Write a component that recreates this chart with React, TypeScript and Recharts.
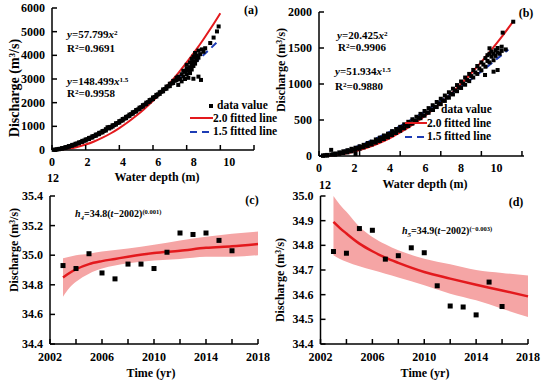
import React from "react";
import { ComposedChart, Scatter, Line, Area, XAxis, YAxis } from "recharts";

const FONT = "'Liberation Serif', 'Times New Roman', serif";
const RED = "#e3191d";
const BLUE = "#1d3cb5";
const BAND = "#f5a5a5";

// ---- panel (a): discharge vs water depth, station 1
const depthTicksA = [0, 2, 4, 6, 8, 10, 12];
const depthLabelsA = [0, 2, 4, 6, 8, 10];
const flowTicksA = [0, 1000, 2000, 3000, 4000, 5000, 6000];
const pointsA: [number, number][] = [
  [0.1, 5], [0.2, 20], [0.2, 5], [0.3, 28], [0.4, 45], [0.4, 30], [0.5, 50], [0.6, 80], [0.6, 60],
  [0.7, 85], [0.8, 120], [0.8, 95], [0.9, 125], [1.0, 165], [1.0, 135], [1.1, 170], [1.2, 215],
  [1.2, 180], [1.3, 220], [1.4, 265], [1.4, 230], [1.5, 275], [1.6, 320], [1.6, 285], [1.7, 335],
  [1.8, 385], [1.8, 340], [1.9, 395], [2.0, 445], [2.0, 400], [2.1, 455], [2.2, 510], [2.2, 465],
  [2.3, 520], [2.4, 580], [2.4, 530], [2.5, 590], [2.6, 650], [2.6, 600], [2.7, 660], [2.8, 725],
  [2.8, 670], [2.9, 735], [3.0, 800], [3.0, 745], [3.1, 810], [3.2, 880], [3.2, 825], [3.3, 960],
  [3.4, 960], [3.4, 910], [3.45, 975], [3.5, 955], [3.6, 1045], [3.6, 990], [3.7, 1050], [3.8, 1130],
  [3.8, 1075], [3.9, 1140], [4.0, 1220], [4.0, 1160], [4.1, 1235], [4.2, 1310], [4.2, 1250],
  [4.3, 1325], [4.4, 1400], [4.4, 1345], [4.5, 1420], [4.6, 1495], [4.6, 1440], [4.7, 1515],
  [4.8, 1595], [4.8, 1535], [4.9, 1610], [5.0, 1690], [5.0, 1630], [5.1, 1710], [5.2, 1790],
  [5.2, 1735], [5.3, 1810], [5.4, 1895], [5.4, 1835], [5.5, 1915], [5.6, 2000], [5.6, 1940],
  [5.7, 2020], [5.8, 2110], [5.8, 2045], [5.9, 2130], [6.0, 2220], [6.0, 2150], [6.1, 2240],
  [6.2, 2330], [6.2, 2260], [6.3, 2350], [6.4, 2440], [6.4, 2370], [6.5, 2460], [6.6, 2560],
  [6.6, 2480], [6.7, 2575], [6.8, 2680], [6.8, 2590], [6.9, 2690], [7.0, 2800], [7.0, 2700],
  [7.1, 2810], [7.2, 2920], [7.2, 2830], [7.3, 2930], [7.4, 3050], [7.4, 2950], [7.5, 3100],
  [7.5, 2750], [7.6, 3000], [7.7, 3200], [7.7, 2900], [7.8, 3100], [7.8, 3350], [7.9, 3000],
  [7.9, 3300], [8.0, 3200], [8.0, 3450], [8.0, 3600], [8.1, 3350], [8.1, 3050], [8.2, 3500],
  [8.2, 3700], [8.2, 3250], [8.3, 3400], [8.3, 3850], [8.3, 3600], [8.4, 3550], [8.4, 3750],
  [8.4, 3950], [8.4, 3010], [8.5, 3650], [8.5, 3900], [8.5, 4100], [8.6, 3800], [8.6, 4000],
  [8.7, 3900], [8.7, 4200], [8.7, 3100], [8.8, 4050], [8.85, 2960], [8.9, 4250], [9.0, 4150],
  [9.1, 4300], [9.4, 4520], [9.6, 4750], [9.8, 5010], [9.9, 5220],
];
const fit20A: [number, number][] = [
  [0, 0], [0.5, 14], [1, 58], [1.5, 130], [2, 231], [2.5, 361], [3, 520], [3.5, 708], [4, 925],
  [4.5, 1170], [5, 1445], [5.5, 1748], [6, 2081], [6.5, 2442], [7, 2832], [7.5, 3251], [8, 3699],
  [8.5, 4176], [9, 4682], [9.5, 5216], [10, 5780],
];
const fit15A: [number, number][] = [
  [0, 0], [0.5, 52], [1, 148], [1.5, 273], [2, 420], [2.5, 587], [3, 772], [3.5, 972], [4, 1188],
  [4.5, 1418], [5, 1660], [5.5, 1916], [6, 2183], [6.5, 2461], [7, 2750], [7.5, 3050], [8, 3360],
  [8.5, 3680], [9, 4010], [9.5, 4348], [9.85, 4591],
];

// ---- panel (b): discharge vs water depth, station 2
const depthTicksB = [0, 2, 4, 6, 8, 10];
const depthLabelsB = [0, 2, 4, 6, 8, 10];
const flowTicksB = [0, 500, 1000, 1500, 2000];
const pointsB: [number, number][] = [
  [0.2, 8], [0.2, 2], [0.3, 10], [0.4, 15], [0.4, 5], [0.6, 85], [0.6, 20], [0.7, 25], [0.8, 35],
  [0.8, 18], [1.0, 50], [1.0, 30], [1.1, 45], [1.2, 65], [1.2, 40], [1.3, 60], [1.4, 80], [1.4, 50],
  [1.5, 75], [1.6, 100], [1.6, 65], [1.7, 90], [1.8, 28], [1.8, 115], [1.8, 85], [1.9, 110],
  [2.0, 135], [2.0, 100], [2.1, 125], [2.2, 155], [2.2, 120], [2.3, 150], [2.4, 180], [2.4, 140],
  [2.5, 170], [2.6, 200], [2.6, 160], [2.7, 195], [2.8, 230], [2.8, 185], [2.9, 215], [3.0, 255],
  [3.0, 210], [3.1, 240], [3.2, 285], [3.2, 235], [3.3, 270], [3.4, 310], [3.4, 260], [3.5, 300],
  [3.6, 345], [3.6, 290], [3.7, 325], [3.8, 375], [3.8, 320], [3.9, 360], [4.0, 405], [4.0, 350],
  [4.1, 390], [4.2, 440], [4.2, 385], [4.3, 420], [4.4, 475], [4.4, 415], [4.5, 455], [4.6, 510],
  [4.6, 450], [4.7, 490], [4.8, 545], [4.8, 485], [4.9, 530], [5.0, 585], [5.0, 525], [5.1, 565],
  [5.2, 625], [5.2, 560], [5.3, 605], [5.4, 665], [5.4, 600], [5.5, 645], [5.6, 705], [5.6, 640],
  [5.7, 685], [5.8, 750], [5.8, 680], [5.9, 730], [6.0, 795], [6.0, 720], [6.1, 770], [6.2, 840],
  [6.2, 765], [6.3, 815], [6.4, 885], [6.4, 810], [6.5, 865], [6.6, 935], [6.6, 855], [6.7, 910],
  [6.8, 985], [6.8, 900], [6.9, 955], [7.0, 1035], [7.0, 945], [7.1, 1005], [7.2, 1090], [7.2, 990],
  [7.3, 1055], [7.4, 1140], [7.4, 1040], [7.5, 1110], [7.6, 1195], [7.6, 1090], [7.7, 1160],
  [7.8, 1250], [7.8, 1140], [7.9, 1215], [8.0, 1300], [8.0, 1190], [8.1, 1270], [8.18, 1125],
  [8.2, 1360], [8.2, 1240], [8.3, 1320], [8.3, 1400], [8.4, 1420], [8.4, 1300], [8.4, 1496],
  [8.5, 1380], [8.5, 1450], [8.6, 1171], [8.6, 1420], [8.6, 1330], [8.7, 1470], [8.7, 1390],
  [8.8, 1194], [8.8, 1440], [8.8, 1500], [8.9, 1420], [9.0, 1518], [9.0, 1460], [9.05, 1713],
  [9.2, 1480], [9.57, 1865],
];
const fit20B: [number, number][] = [
  [0, 0], [0.5, 5], [1, 20], [1.5, 46], [2, 82], [2.5, 128], [3, 184], [3.5, 250], [4, 327],
  [4.5, 414], [5, 511], [5.5, 618], [6, 735], [6.5, 863], [7, 1001], [7.5, 1149], [8, 1307],
  [8.5, 1476], [9, 1654], [9.57, 1871],
];
const fit15B: [number, number][] = [
  [0, 0], [0.5, 18], [1, 52], [1.5, 95], [2, 147], [2.5, 205], [3, 270], [3.5, 340], [4, 415],
  [4.5, 496], [5, 581], [5.5, 670], [6, 763], [6.5, 861], [7, 962], [7.5, 1067], [8, 1175],
  [8.5, 1287], [9, 1402], [9.33, 1480],
];

// ---- panels (c) and (d): yearly values with fitted curve and band
const years = [2003, 2004, 2005, 2006, 2007, 2008, 2009, 2010, 2011, 2012, 2013, 2014, 2015, 2016];
const h4 = [34.93, 34.91, 35.01, 34.88, 34.84, 34.94, 34.94, 34.91, 35.02, 35.15, 35.14, 35.15, 35.1, 35.03];
const h5 = [34.775, 34.768, 34.868, 34.861, 34.744, 34.758, 34.79, 34.77, 34.636, 34.554, 34.55, 34.518, 34.651, 34.552];
const yearTicks = [2002, 2004, 2006, 2008, 2010, 2012, 2014, 2016, 2018];
const fitYears = [2003, 2003.5, 2004, 2005, 2006, 2007, 2008, 2010, 2012, 2014, 2016, 2018];
const fitC = [34.85, 34.88, 34.905, 34.94, 34.96, 34.975, 34.99, 35.015, 35.03, 35.05, 35.06, 35.075];
const hiC = [34.98, 34.99, 35.0, 35.01, 35.025, 35.035, 35.045, 35.07, 35.1, 35.125, 35.145, 35.16];
const loC = [34.72, 34.78, 34.82, 34.875, 34.91, 34.93, 34.945, 34.965, 34.975, 34.99, 34.99, 35.0];
const fitD = [34.895, 34.87, 34.848, 34.807, 34.776, 34.75, 34.729, 34.692, 34.665, 34.64, 34.617, 34.593];
const hiD = [35.0, 34.965, 34.936, 34.875, 34.834, 34.804, 34.78, 34.746, 34.723, 34.7, 34.688, 34.678];
const loD = [34.76, 34.745, 34.733, 34.715, 34.7, 34.685, 34.67, 34.638, 34.604, 34.577, 34.543, 34.509];
const ticksC = [34.4, 34.6, 34.8, 35.0, 35.2, 35.4];
const ticksD = [34.4, 34.5, 34.6, 34.7, 34.8, 34.9, 35.0];

const toRows = (p: [number, number][]) => p.map(([x, y]) => ({ x, y }));

const square = (s: number) => (p: any) => (
  <rect x={p.cx - s / 2} y={p.cy - s / 2} width={s} height={s} fill="#000" />
);

const txt = { fontFamily: FONT, fontWeight: 700, fill: "#000" } as const;

const yTick = (size: number, digits: number) => (p: any) => (
  <g>
    <line x1={p.x} y1={p.y} x2={p.x + 5} y2={p.y} stroke="#000" strokeWidth={1.5} />
    <text x={p.x - 7} y={p.y} textAnchor="end" dominantBaseline="central" fontSize={size} style={txt}>
      {Number(p.payload.value).toFixed(digits)}
    </text>
  </g>
);

const xMark = (p: any) => (
  <line x1={p.x} y1={p.y} x2={p.x} y2={p.y - 5} stroke="#000" strokeWidth={1.5} />
);

const xLabel = (off: number) => (p: any) => (
  <text x={p.x} y={p.y + off} textAnchor="middle" dominantBaseline="central" fontSize={12} style={txt}>
    {p.payload.value}
  </text>
);

const yearTick = (p: any) => (
  <g>
    <line x1={p.x} y1={p.y} x2={p.x} y2={p.y - 5} stroke="#000" strokeWidth={1.5} />
    {(p.payload.value - 2002) % 4 === 0 && (
      <text x={p.x} y={p.y + 13} textAnchor="middle" dominantBaseline="central" fontSize={12} style={txt}>
        {p.payload.value}
      </text>
    )}
  </g>
);

function T({ x, y, size = 12, children, center = false, rotate = false }: any) {
  return (
    <div
      style={{
        position: "absolute",
        left: x,
        top: y,
        transform: `translate(${center || rotate ? "-50%" : "0"}, -50%)${rotate ? " rotate(-90deg)" : ""}`,
        fontFamily: FONT,
        fontWeight: 700,
        fontSize: size,
        whiteSpace: "nowrap",
        lineHeight: 1,
        color: "#000",
      }}
    >
      {children}
    </div>
  );
}

const Sup = ({ children, s = 0.65 }: any) => (
  <span style={{ fontSize: `${s}em`, position: "relative", top: "-0.45em" }}>{children}</span>
);

function LegendLine({ x1, x2, y, color, dashed }: any) {
  return (
    <svg style={{ position: "absolute", left: 0, top: 0, overflow: "visible" }} width={1} height={1}>
      <line x1={x1} y1={y} x2={x2} y2={y} stroke={color} strokeWidth={2} strokeDasharray={dashed ? "7 5" : undefined} />
    </svg>
  );
}

function DepthPanel({ left, margin, width, height, xMax, xTicks, labMax, labTicks, labOff, yMax, yTicks, points, red, blue }: any) {
  const rows = toRows(points);
  return (
    <div style={{ position: "absolute", left, top: 0 }}>
      <ComposedChart width={width} height={height} margin={margin} data={rows}>
        <XAxis
          type="number"
          dataKey="x"
          domain={[0, xMax]}
          ticks={xTicks}
          interval={0}
          height={1}
          tickSize={0}
          tickMargin={0}
          tick={xMark}
          axisLine={{ stroke: "#000", strokeWidth: 1.5 }}
          tickLine={false}
        />
        <XAxis
          xAxisId="lab"
          type="number"
          dataKey="x"
          domain={[0, labMax]}
          allowDataOverflow
          ticks={labTicks}
          interval={0}
          height={1}
          tickSize={0}
          tickMargin={0}
          tick={xLabel(labOff)}
          axisLine={false}
          tickLine={false}
        />
        <YAxis
          type="number"
          domain={[0, yMax]}
          ticks={yTicks}
          interval={0}
          width={40}
          tickSize={0}
          tickMargin={0}
          tick={yTick(12, 0)}
          axisLine={{ stroke: "#000", strokeWidth: 1.5 }}
          tickLine={false}
        />
        <Scatter dataKey="y" shape={square(4)} isAnimationActive={false} />
        <Line data={toRows(red)} dataKey="y" type="monotone" stroke={RED} strokeWidth={2} dot={false} isAnimationActive={false} />
        <Line data={toRows(blue)} dataKey="y" type="monotone" stroke={BLUE} strokeWidth={2} strokeDasharray="7 5" dot={false} isAnimationActive={false} />
      </ComposedChart>
    </div>
  );
}

function TimePanel({ left, margin, values, fit, lo, hi, yMin, yMax, yTicks }: any) {
  const rows = fitYears.map((t, i) => ({ x: t, fit: fit[i], band: [lo[i], hi[i]] }));
  const pts = years.map((t, i) => ({ x: t, y: values[i] }));
  return (
    <div style={{ position: "absolute", left, top: 190 }}>
      <ComposedChart width={275} height={194} margin={margin} data={rows}>
        <XAxis
          type="number"
          dataKey="x"
          domain={[2002, 2018]}
          ticks={yearTicks}
          interval={0}
          height={1}
          tickSize={0}
          tickMargin={0}
          tick={yearTick}
          axisLine={{ stroke: "#000", strokeWidth: 1.5 }}
          tickLine={false}
        />
        <YAxis
          type="number"
          domain={[yMin, yMax]}
          ticks={yTicks}
          interval={0}
          allowDataOverflow
          width={40}
          tickSize={0}
          tickMargin={0}
          tick={yTick(12, 1)}
          axisLine={{ stroke: "#000", strokeWidth: 1.5 }}
          tickLine={false}
        />
        <Area dataKey="band" type="monotone" fill={BAND} fillOpacity={1} stroke="none" isAnimationActive={false} />
        <Line dataKey="fit" type="monotone" stroke={RED} strokeWidth={2.5} dot={false} isAnimationActive={false} />
        <Scatter data={pts} dataKey="y" shape={square(5)} isAnimationActive={false} />
      </ComposedChart>
    </div>
  );
}

export default function App() {
  return (
    <div style={{ position: "absolute", left: 0, top: 0, width: 550, height: 384, background: "#fff", overflow: "hidden" }}>
      <DepthPanel
        left={0}
        width={275}
        height={190}
        margin={{ top: 8, right: 21, bottom: 38, left: 12 }}
        xMax={12}
        xTicks={depthTicksA}
        labMax={11.4}
        labTicks={depthLabelsA}
        labOff={11}
        yMax={6000}
        yTicks={flowTicksA}
        points={pointsA}
        red={fit20A}
        blue={fit15A}
      />
      <DepthPanel
        left={275}
        width={275}
        height={190}
        margin={{ top: 12, right: 26, bottom: 32, left: 4 }}
        xMax={10.1}
        xTicks={depthTicksB}
        labMax={11.55}
        labTicks={depthLabelsB}
        labOff={10.5}
        yMax={2000}
        yTicks={flowTicksB}
        points={pointsB}
        red={fit20B}
        blue={fit15B}
      />
      <TimePanel left={0} margin={{ top: 6, right: 17, bottom: 39, left: 10 }} values={h4} fit={fitC} lo={loC} hi={hiC} yMin={34.4} yMax={35.4} yTicks={ticksC} />
      <TimePanel left={275} margin={{ top: 6, right: 22, bottom: 39, left: 5.5 }} values={h5} fit={fitD} lo={loD} hi={hiD} yMin={34.4} yMax={35.0} yTicks={ticksD} />

      {/* panel (a) texts */}
      <T x={251} y={10} center>(a)</T>
      <T x={67} y={35} size={11}><i>y</i>=57.799<i>x</i><Sup>2</Sup></T>
      <T x={67} y={49} size={11}>R<Sup>2</Sup>=0.9691</T>
      <T x={67} y={82} size={11}><i>y</i>=148.499<i>x</i><Sup>1.5</Sup></T>
      <T x={67} y={94} size={11}>R<Sup>2</Sup>=0.9958</T>
      <svg style={{ position: "absolute", left: 209, top: 104 }} width={4} height={4}><rect width={4} height={4} fill="#000" /></svg>
      <T x={217} y={106} size={11.5}>data value</T>
      <LegendLine x1={190} x2={213} y={118} color={RED} />
      <T x={213} y={118.5} size={11.5}>2.0 fitted line</T>
      <LegendLine x1={190} x2={213} y={132} color={BLUE} dashed />
      <T x={213} y={132} size={11.5}>1.5 fitted line</T>
      <T x={157} y={177} center>Water depth (m)</T>
      <T x={53} y={178} center>12</T>
      <T x={15} y={88} size={14} rotate>Discharge (m<Sup>3</Sup>/s)</T>

      {/* panel (b) texts */}
      <T x={526} y={13} center>(b)</T>
      <T x={337} y={36} size={11}><i>y</i>=20.425<i>x</i><Sup>2</Sup></T>
      <T x={338} y={48} size={11}>R<Sup>2</Sup>=0.9906</T>
      <T x={335} y={72} size={11}><i>y</i>=51.934<i>x</i><Sup>1.5</Sup></T>
      <T x={335} y={87} size={11}>R<Sup>2</Sup>=0.9880</T>
      <svg style={{ position: "absolute", left: 431, top: 108 }} width={4} height={4}><rect width={4} height={4} fill="#000" /></svg>
      <T x={441} y={110} size={11.5}>data value</T>
      <LegendLine x1={405} x2={427} y={123} color={RED} />
      <T x={427} y={123.5} size={11.5}>2.0 fitted line</T>
      <LegendLine x1={405} x2={427} y={137} color={BLUE} dashed />
      <T x={427} y={137} size={11.5}>1.5 fitted line</T>
      <T x={425} y={183.5} center>Water depth (m)</T>
      <T x={325} y={185} center>12</T>
      <T x={281} y={70} size={12} rotate>Discharge (m<Sup>3</Sup>/s)</T>

      {/* panel (c) texts */}
      <T x={252} y={200} center>(c)</T>
      <T x={75} y={215} size={10}><i>h</i><sub style={{ fontSize: "0.7em" }}><i>4</i></sub>=34.8(<i>t</i>−2002)<Sup>(0.001)</Sup></T>
      <T x={151} y={373} center>Time (yr)</T>
      <T x={14} y={250} size={12} rotate>Discharge (m<Sup>3</Sup>/s)</T>

      {/* panel (d) texts */}
      <T x={516} y={202} center>(d)</T>
      <T x={402} y={232} size={10}><i>h</i><sub style={{ fontSize: "0.7em" }}><i>5</i></sub>=34.9(<i>t</i>−2002)<Sup>(−0.003)</Sup></T>
      <T x={425} y={373} center>Time (yr)</T>
      <T x={280} y={280} size={12} rotate>Discharge (m<Sup>3</Sup>/s)</T>
    </div>
  );
}
